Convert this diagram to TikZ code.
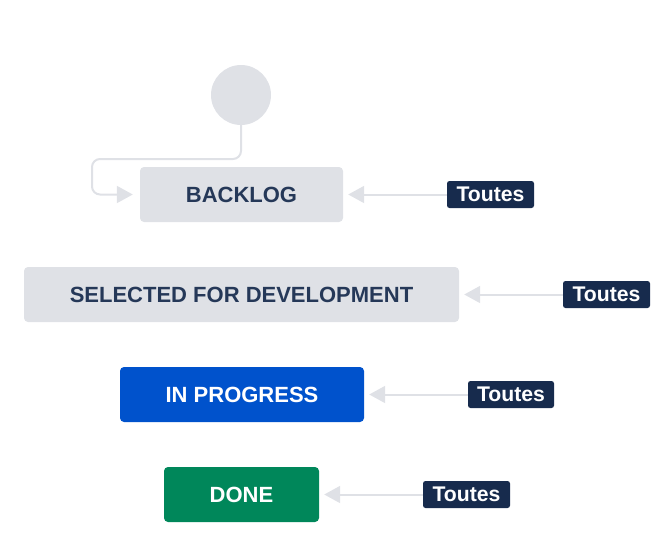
\documentclass[tikz,border=0pt]{standalone}
\usepackage{fontspec}
\setmainfont{Liberation Sans}
\usetikzlibrary{arrows.meta}
\definecolor{boxgray}{HTML}{DFE1E6}
\definecolor{linegray}{HTML}{DFE1E6}
\definecolor{navy}{HTML}{172B4D}
\definecolor{txtdark}{HTML}{253858}
\definecolor{jblue}{HTML}{0052CC}
\definecolor{jgreen}{HTML}{00875A}
\tikzset{
  status/.style={rounded corners=4pt, minimum height=55pt, inner sep=0pt,
    font=\fontsize{22}{26}\selectfont\bfseries},
  graybox/.style={status, fill=boxgray, text=txtdark},
  tag/.style={rounded corners=2.5pt, fill=navy, text=white, minimum height=27pt,
    inner sep=0pt, font=\fontsize{21.2}{25}\selectfont\bfseries},
  conn/.style={draw=linegray, line width=2pt,
    -{Triangle[length=16pt,width=17pt,fill=linegray]}, shorten >=5pt},
}
\begin{document}
\begin{tikzpicture}[x=1pt,y=-1pt]
\useasboundingbox (0,0) rectangle (666,544);
\node[circle, fill=boxgray, minimum size=60pt, inner sep=0pt] (start) at (241,95) {};
\node[graybox, minimum width=203pt] (backlog) at (241.5,194.5) {BACKLOG};
\node[graybox, minimum width=435pt] (selected) at (241.5,294.5) {SELECTED FOR DEVELOPMENT};
\node[status, fill=jblue, text=white, minimum width=244pt] (inprog) at (242,394.5) {IN PROGRESS};
\node[status, fill=jgreen, text=white, minimum width=155pt] (done) at (241.5,494.5) {DONE};
\node[tag, minimum width=87pt] (t1) at (490.5,194.5) {Toutes};
\node[tag, minimum width=87pt] (t2) at (606.5,294.5) {Toutes};
\node[tag, minimum width=86pt] (t3) at (511,394.5) {Toutes};
\node[tag, minimum width=87pt] (t4) at (466.5,494.5) {Toutes};
\coordinate (c1) at (241,159);
\coordinate (c2) at (92,159);
\coordinate (c3) at (92,194.5);
\draw[conn, shorten >=7pt, rounded corners=8pt] (start.south) -- (c1) -- (c2) -- (c3) -- (backlog.west);
\draw[conn] (t1.west) -- (backlog.east);
\draw[conn] (t2.west) -- (selected.east);
\draw[conn] (t3.west) -- (inprog.east);
\draw[conn] (t4.west) -- (done.east);
\end{tikzpicture}
\end{document}
